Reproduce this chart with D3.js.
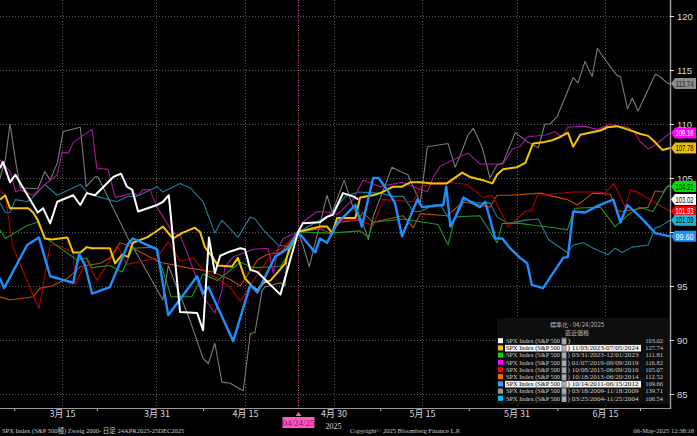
<!DOCTYPE html>
<html><head><meta charset="utf-8">
<script src="https://cdn.jsdelivr.net/npm/d3@7"></script>
<style>body{margin:0;background:#000;overflow:hidden}svg{display:block}</style>
</head><body><svg id="c" width="697" height="436"></svg>
<script>
// ---------- data ----------
const normDate = "2025-04-24";               // normalisation date (all series = 100)
const domainDays = [-50.5, 63];              // visible window, days from normDate
const monthTicks = ["2025-03-15","2025-03-31","2025-04-15","2025-04-30","2025-05-15","2025-05-31","2025-06-15"];
const monthTickLabels = ["3月 15","3月 31","4月 15","4月 30","5月 15","5月 31","6月 15"];
const minorTicks = ["2025-03-07","2025-03-21","2025-04-08","2025-05-08","2025-05-23","2025-06-07","2025-06-21"];
const yTicks = [85,90,95,100,105,110,115,120];

const seriesKeys   = ["s2025","s2023b","s2023a","s2019","s2015","s2013","s2011","s2009","s2004"];
const seriesRanges = ["","11/03/2023-07/05/2024","03/31/2023-12/01/2023","01/07/2019-09/09/2019","10/08/2015-06/09/2016","10/18/2013-06/20/2014","10/14/2011-06/15/2012","03/18/2009-11/18/2009","03/25/2004-11/25/2004"];
const seriesLatest = [103.02,127.74,111.81,116.82,105.07,112.52,109.66,139.71,106.54];
const legendColors = ["#ffffff","#f5c400","#00dd00","#ff00ff","#ff0000","#ff6a00","#3a9cff","#9a9a9a","#00bfef"];
const lineColors   = ["#ffffff","#f5c400","#1a9a1a","#a8189a","#b40000","#c24a00","#1e8fff","#7a7a7a","#17829e"];
const lineWidths   = [2,2,1.1,1.1,1.1,1.1,2.4,1.1,1.1];
const highlighted  = [false,true,false,false,false,false,true,false,false];
const lastTagValues= [103.02,107.78,104.21,109.16,101.93,null,99.60,113.74,101.09];
const tagFill      = ["#ffffff","#e8c000","#00e000","#ff00ff","#ff0000",null,"#1e8fff","#8c8c8c","#1ab4d8"];
const tagText      = ["#000","#000","#000","#fff","#fff",null,"#fff","#222","#000"];

// [days from 04/24/2025, normalised value]
const s2025 = [[-50.5,105.9],[-50.0,106.5],[-48.8,104.6],[-47.9,105.3],[-44.1,101.8],[-43.2,102.2],[-42.0,100.8],[-40.8,102.8],[-38.1,103.4],[-36.9,102.5],[-35.8,103.6],[-34.4,103.4],[-31.3,105.1],[-30.0,105.4],[-29.0,104.2],[-28.1,103.9],[-27.1,101.9],[-23.9,102.5],[-22.9,102.8],[-21.9,103.4],[-20.0,92.6],[-17.1,92.5],[-16.1,90.9],[-15.1,99.5],[-14.1,96.2],[-13.2,97.8],[-11.5,98.2],[-9.8,98.5],[-9.0,98.4],[-8.1,96.5],[-6.9,96.3],[-3.0,94.2],[0,100],[0.8,100.8],[3.7,100.9],[4.9,101.4],[5.9,101.6],[7.6,103.6],[9.3,103.3],[10.2,103.02]];
const s2023b = [[-50.5,103.0],[-49.6,103.4],[-48.8,102.2],[-45.7,102.2],[-44.9,101.8],[-44.1,101.1],[-42.9,99.4],[-41.7,99.3],[-39.1,99.5],[-38.1,98.1],[-36.9,98.1],[-35.8,98.6],[-34.9,98.5],[-31.9,98.5],[-31.0,97.1],[-29.8,97.9],[-28.8,97.7],[-28.0,99.0],[-25.6,99.5],[-24.2,100.0],[-22.9,100.5],[-21.2,99.4],[-19.7,99.9],[-17.5,100.4],[-16.6,100.0],[-15.8,98.6],[-14.4,97.6],[-13.6,96.9],[-11.2,96.8],[-10.2,97.6],[-9.0,95.7],[-7.6,94.9],[-6.9,94.6],[-5.9,95.3],[-4.7,95.5],[-3.4,96.3],[-2.2,97.1],[-1.4,98.6],[0,100],[1.5,100.2],[3.7,100.5],[4.9,100.5],[5.8,99.9],[6.6,101.3],[9.7,101.3],[10.5,103.2],[12.7,103.4],[13.9,103.6],[16.1,104.2],[17.6,104.2],[19.0,104.6],[20.7,104.6],[22.9,104.5],[25.2,104.5],[27.8,105.5],[29.1,105.1],[31.3,104.8],[32.9,104.5],[33.7,105.3],[34.7,105.8],[37.1,106.0],[38.5,106.4],[39.8,108.2],[41.5,108.3],[43.0,108.5],[44.4,108.8],[45.7,109.2],[46.6,107.9],[47.8,109.0],[51.2,109.4],[52.4,109.7],[54.0,109.8],[55.8,109.5],[57.9,109.1],[59.3,108.9],[60.5,108.3],[61.7,107.6],[63.0,107.78]];
const s2023a = [[-50.5,100.2],[-49.6,99.4],[-45.9,100.6],[-44.1,100.9],[-42.9,99.5],[-37.4,97.4],[-35.8,97.6],[-34.9,96.7],[-31.9,96.9],[-29.8,96.3],[-28.0,98.5],[-24.2,98.6],[-21.5,94.0],[-18.0,94.0],[-16.1,96.1],[-13.7,95.5],[-9.8,97.2],[-7.6,96.7],[-3.0,96.8],[-1.7,97.9],[0,100],[5.4,99.9],[10.5,100.1],[11.9,99.5],[12.7,100.9],[17.8,101.2],[23.7,100.7],[25.4,98.8],[26.6,101.4],[30.8,101.5],[33.7,99.0],[34.6,100.8],[37.6,100.8],[40.2,100.6],[43.5,100.4],[45.6,100.2],[46.9,102.2],[51.2,102.3],[53.7,100.5],[55.9,101.6],[57.9,102.3],[60.1,101.9],[62.5,104.2],[63.0,104.21]];
const s2019 = [[-50.5,106.7],[-48.8,105.6],[-47.8,103.7],[-47.1,103.9],[-44.9,103.4],[-42.9,104.4],[-40.8,105.3],[-40.0,107.4],[-38.9,107.3],[-38.1,108.3],[-34.9,109.5],[-34.1,105.9],[-32.2,105.8],[-31.0,103.2],[-28.0,103.6],[-27.1,103.4],[-26.3,103.9],[-25.1,103.9],[-23.9,102.3],[-21.2,99.9],[-20.0,99.7],[-18.8,98.1],[-16.1,94.0],[-14.1,92.5],[-12.9,94.6],[-12.4,96.8],[-11.0,97.7],[-7.6,98.4],[-5.1,98.5],[-4.2,96.2],[-3.4,98.5],[-2.5,99.4],[0,100],[0.8,100.9],[3.2,101.9],[5.8,101.8],[6.6,101.6],[8.3,102.5],[9.3,103.0],[11.0,104.8],[13.9,104.2],[15.6,104.4],[17.6,104.6],[21.9,103.7],[22.9,105.1],[24.1,106.1],[27.4,107.0],[28.8,107.3],[30.8,106.3],[34.7,106.3],[36.3,107.7],[37.6,107.9],[38.8,108.8],[42.2,109.0],[43.5,109.3],[44.7,108.8],[45.7,109.7],[48.3,109.8],[50.7,109.5],[52.9,110.0],[54.0,109.8],[55.8,109.7],[57.1,109.2],[57.9,108.4],[59.3,107.7],[60.1,107.9],[61.3,108.4],[63.0,109.16]];
const s2015 = [[-50.5,103.9],[-49.6,103.3],[-48.3,98.6],[-43.9,92.9],[-42.0,98.8],[-40.8,98.8],[-38.1,98.1],[-37.8,95.1],[-35.8,97.4],[-34.1,95.5],[-30.5,98.6],[-29.0,97.0],[-23.9,97.6],[-22.0,99.1],[-20.0,97.3],[-17.8,97.6],[-16.1,96.5],[-11.5,94.9],[-9.8,93.6],[-6.4,96.5],[-4.2,98.1],[-2.5,98.6],[0,100],[3.7,100.4],[5.4,99.8],[6.6,101.1],[10.0,101.1],[12.7,100.6],[14.4,103.0],[19.5,102.8],[20.7,104.2],[24.1,104.6],[25.4,104.6],[28.6,104.4],[31.3,103.2],[32.9,103.4],[35.6,100.5],[38.5,101.9],[39.6,102.0],[40.5,103.4],[46.6,103.7],[50.7,103.7],[52.0,103.6],[53.5,104.5],[55.4,102.3],[56.3,103.9],[57.9,103.6],[59.6,103.0],[63.0,101.93]];
const s2013 = [[-50.5,94.0],[-48.8,93.7],[-44.9,94.0],[-43.7,94.8],[-41.7,95.0],[-39.1,95.7],[-36.9,96.8],[-33.5,97.1],[-31.9,97.6],[-30.2,99.0],[-29.0,98.8],[-23.4,97.2],[-18.8,96.7],[-14.4,96.3],[-11.5,95.6],[-9.8,95.0],[-6.9,97.4],[-5.3,97.9],[-3.0,98.1],[-1.4,99.0],[0,100],[3.7,100.3],[5.4,99.9],[7.1,100.9],[10.0,101.1],[11.0,101.8],[12.7,100.9],[17.8,101.5],[19.5,100.4],[20.7,101.7],[25.2,101.5],[28.0,102.8],[32.5,102.3],[33.7,103.4],[35.9,103.4],[41.0,103.6],[45.6,103.0],[47.3,102.5],[50.0,103.6],[52.9,103.5],[54.0,102.0],[54.9,101.9],[59.3,102.3],[60.5,103.8],[61.7,103.7],[63.0,104.4]];
const s2011 = [[-50.5,95.7],[-49.8,94.8],[-45.9,98.8],[-43.9,99.5],[-42.0,95.9],[-38.1,95.3],[-37.1,98.0],[-36.1,96.9],[-34.9,94.3],[-31.9,94.9],[-28.8,98.9],[-28.0,99.4],[-23.9,98.4],[-22.0,92.3],[-17.1,95.9],[-16.1,94.3],[-15.2,94.9],[-11.0,89.9],[-8.1,95.1],[-6.9,94.4],[-3.9,97.7],[-1.7,98.5],[0,100],[2.9,98.1],[3.7,99.4],[4.9,99.0],[6.6,100.8],[9.7,102.5],[10.8,100.5],[12.7,105.0],[13.6,105.0],[15.1,103.9],[16.4,102.7],[17.6,99.6],[20.2,103.0],[21.0,102.3],[24.6,102.5],[25.1,104.2],[25.8,100.5],[26.6,101.3],[28.0,103.2],[30.8,102.3],[31.7,102.8],[33.4,99.4],[34.6,99.4],[35.9,98.5],[37.6,97.6],[38.8,97.1],[39.6,95.1],[41.5,94.8],[44.9,97.6],[45.7,97.7],[46.6,101.9],[48.6,101.8],[50.7,102.4],[52.4,102.8],[53.4,103.0],[54.6,100.9],[55.8,102.5],[58.5,101.1],[60.5,99.9],[63.0,99.60]];
const s2009 = [[-50.5,105.0],[-49.6,106.7],[-48.8,110.0],[-47.9,106.7],[-47.4,105.1],[-47.1,104.1],[-44.1,104.0],[-42.9,105.6],[-42.0,104.8],[-40.8,106.4],[-39.8,109.3],[-36.9,109.7],[-35.9,104.2],[-34.4,105.1],[-33.9,105.1],[-28.8,99.4],[-22.9,93.7],[-22.0,96.9],[-18.3,91.8],[-16.1,88.3],[-15.2,87.8],[-14.1,89.7],[-12.9,86.1],[-11.5,86.0],[-9.3,85.3],[-8.1,90.6],[-7.3,90.7],[-6.1,94.6],[-5.6,94.9],[-3.0,95.3],[-2.2,95.0],[-1.9,97.7],[0,100],[0.8,98.8],[1.9,96.8],[4.9,103.4],[5.8,101.8],[7.8,104.8],[9.3,102.3],[10.8,101.1],[11.9,99.3],[12.7,101.4],[15.9,106.0],[17.3,105.6],[18.6,105.3],[20.7,102.7],[21.9,107.9],[25.4,108.2],[26.6,106.0],[27.4,107.0],[28.8,109.0],[29.7,109.6],[31.2,107.8],[32.5,105.0],[33.7,106.2],[34.7,106.4],[36.8,109.2],[39.0,108.3],[40.7,107.8],[41.8,110.0],[42.7,110.0],[43.9,110.7],[46.6,114.3],[47.4,113.8],[48.6,115.8],[49.8,114.4],[50.7,117.0],[51.7,116.2],[54.0,114.5],[54.6,114.4],[55.8,111.4],[56.6,112.4],[57.6,111.2],[60.5,114.6],[61.3,114.4],[62.5,113.8],[63.0,113.74]];
const s2004 = [[-50.5,102.7],[-49.6,101.8],[-48.8,101.8],[-47.9,103.0],[-45.9,102.8],[-44.9,103.2],[-42.9,104.4],[-40.8,103.4],[-36.9,104.4],[-35.6,103.6],[-34.1,103.3],[-30.7,102.8],[-28.8,103.3],[-27.3,103.3],[-23.9,104.2],[-22.9,103.7],[-20.0,104.5],[-18.3,104.1],[-16.1,102.8],[-14.1,99.9],[-12.9,101.1],[-10.2,99.5],[-8.1,101.4],[-7.3,101.2],[-5.9,100.2],[-3.4,98.8],[-1.4,98.6],[0,100],[5.4,101.6],[8.0,103.3],[10.2,103.7],[13.9,103.6],[16.1,103.3],[17.8,103.3],[19.5,101.9],[20.7,101.9],[22.9,102.5],[24.1,102.5],[26.1,100.8],[28.3,103.0],[30.3,102.7],[32.5,102.7],[33.7,101.4],[35.6,100.8],[38.5,101.1],[40.7,101.2],[42.4,99.3],[45.6,98.1],[46.6,98.8],[48.3,99.0],[50.0,98.5],[52.5,97.9],[53.7,98.5],[54.9,98.1],[56.6,98.6],[59.3,98.8],[60.5,100.4],[61.3,100.5],[63.0,101.09]];

const seriesData = {s2025,s2023b,s2023a,s2019,s2015,s2013,s2011,s2009,s2004};
const drawOrder = [7,8,5,4,2,3,1,6,0];

// ---------- layout ----------
const W=697,H=436, plotR=670, plotB=408;
const svg=d3.select("#c");
svg.append("rect").attr("width",W).attr("height",H).attr("fill","#000");
const DAY=86400000, base=new Date(normDate+"T00:00:00Z");
const dt=d=>new Date(base.getTime()+d*DAY);
const x=d3.scaleUtc().domain(domainDays.map(dt)).range([0,plotR]);
const y=d3.scaleLinear().domain([85,120]).range([394,16]);
const CJK='"Noto Sans CJK JP","Liberation Serif",serif';
const SER='"Liberation Serif","Noto Sans CJK JP",serif';

// grid
const g=svg.append("g");
g.selectAll(".hg").data(yTicks).join("line")
 .attr("x1",0).attr("x2",plotR).attr("y1",d=>Math.round(y(d))+0.5).attr("y2",d=>Math.round(y(d))+0.5)
 .attr("stroke","#5a5a5a").attr("stroke-dasharray","1,2");
g.selectAll(".vg").data(monthTicks).join("line")
 .attr("x1",d=>Math.round(x(new Date(d+"T00:00:00Z")))+0.5).attr("x2",d=>Math.round(x(new Date(d+"T00:00:00Z")))+0.5)
 .attr("y1",0).attr("y2",plotB).attr("stroke","#5a5a5a").attr("stroke-dasharray","1,2");
const xn=Math.round(x(base))+0.5;
g.append("line").attr("x1",xn).attr("x2",xn).attr("y1",0).attr("y2",plotB)
 .attr("stroke","#e055b0").attr("stroke-dasharray","1,1.5");

// lines
const line=d3.line().x(d=>x(dt(d[0]))).y(d=>y(d[1]));
const lg=svg.append("g");
drawOrder.forEach(i=>{
  lg.append("path").datum(seriesData[seriesKeys[i]]).attr("d",line)
    .attr("fill","none").attr("stroke",lineColors[i]).attr("stroke-width",lineWidths[i])
    .attr("stroke-linejoin","round");
});

// axes
svg.append("line").attr("x1",0).attr("x2",plotR).attr("y1",plotB+0.5).attr("y2",plotB+0.5).attr("stroke","#9a9a9a");
svg.append("line").attr("x1",plotR+0.5).attr("x2",plotR+0.5).attr("y1",0).attr("y2",plotB+1).attr("stroke","#9a9a9a").attr("stroke-width",1.5);
const tagVals=lastTagValues.filter(v=>v!==null);
const yAxis=d3.axisRight(y).tickValues(yTicks).tickSize(4).tickPadding(3)
  .tickFormat(d=>tagVals.some(v=>Math.abs(y(v)-y(d))<6)?"":d);   // label hidden where a value tag covers it
const ya=svg.append("g").attr("transform",`translate(${plotR},0)`).call(yAxis);
ya.select(".domain").remove();
ya.selectAll("line").attr("stroke","#ddd");
ya.selectAll("text").attr("fill","#d8d8d8").style("font-family",'"Liberation Sans",sans-serif').style("font-size","9.5px");

const xAxis=d3.axisBottom(x).tickValues(monthTicks.map(d=>new Date(d+"T00:00:00Z"))).tickSize(0).tickPadding(2)
  .tickFormat((d,i)=>monthTickLabels[i]);
const xa=svg.append("g").attr("transform",`translate(0,${plotB+1})`).call(xAxis);
xa.select(".domain").remove();
xa.selectAll("text").attr("fill","#d8d8d8").style("font-family",CJK).style("font-size","9px");
svg.selectAll(".mt").data(minorTicks).join("line")
 .attr("x1",d=>x(new Date(d+"T00:00:00Z"))).attr("x2",d=>x(new Date(d+"T00:00:00Z")))
 .attr("y1",plotB+1).attr("y2",plotB+3).attr("stroke","#bbb");
svg.append("text").attr("x",x(new Date("2025-04-30T00:00:00Z"))).attr("y",428.5).attr("text-anchor","middle")
 .attr("fill","#d8d8d8").style("font-family",SER).style("font-size","8px").text("2025");

// normalisation date marker
svg.append("path").attr("d",`M${xn},${plotB+4}l-3,4h6z`).attr("fill","#ff5cc4");
svg.append("rect").attr("x",xn-16).attr("y",417).attr("width",32).attr("height",11).attr("fill","#ff5cc4");
svg.append("text").attr("x",xn).attr("y",425.5).attr("text-anchor","middle").attr("fill","#9a0060")
 .style("font-family",SER).style("font-size","9px").text("04/24/25");

// right value tags
const tags=seriesKeys.map((k,i)=>({i,v:lastTagValues[i]})).filter(d=>d.v!==null).sort((a,b)=>b.v-a.v);
tags.forEach(t=>{
  const yy=y(t.v);
  svg.append("path").attr("d",`M${plotR+1},${yy}l4,-5.5h21v11h-21z`).attr("fill",tagFill[t.i]);
  svg.append("text").attr("x",plotR+5.5).attr("y",yy+3.2).attr("textLength",18).attr("lengthAdjust","spacingAndGlyphs")
   .attr("fill",tagText[t.i])
   .style("font-family",'"Liberation Sans",sans-serif').style("font-size","8.5px").text(t.v.toFixed(2));
});

// legend
const LX=497, LY=318;
svg.append("rect").attr("x",LX).attr("y",LY).attr("width",plotR-LX-1).attr("height",86).attr("fill","#0e0e0e");
svg.append("text").attr("x",577).attr("y",326.5).attr("text-anchor","middle").attr("fill","#bbb")
 .style("font-family",CJK).style("font-size","6px").text("標準化 - 04/24/2025");
svg.append("text").attr("x",577).attr("y",334.5).attr("text-anchor","middle").attr("fill","#bbb")
 .style("font-family",CJK).style("font-size","6px").text("直近価格");
seriesKeys.forEach((k,i)=>{
  const ry=341+i*7.2;
  svg.append("rect").attr("x",498).attr("y",ry-2.8).attr("width",5).attr("height",5).attr("fill",legendColors[i]);
  if(highlighted[i]) svg.append("rect").attr("x",505).attr("y",ry-3.3).attr("width",136).attr("height",6.6).attr("fill","#f2f2f2");
  svg.append("rect").attr("x",561.5).attr("y",ry-3.4).attr("width",5).attr("height",6.8).attr("fill","#6e6e6e");
  const tc=highlighted[i]?"#111":"#c8c8c8";
  svg.append("text").attr("x",506).attr("y",ry+2).attr("fill",tc).attr("textLength",54).attr("lengthAdjust","spacingAndGlyphs")
    .style("font-family",SER).style("font-size","6.5px").text("SPX Index (S&P 500");
  svg.append("text").attr("x",561.8).attr("y",ry+2).attr("fill","#ddd")
    .style("font-family",CJK).style("font-size","4.5px").text("種");
  const rest=") "+seriesRanges[i];
  svg.append("text").attr("x",567.5).attr("y",ry+2).attr("fill",tc)
    .attr("textLength",seriesRanges[i]?71:3).attr("lengthAdjust","spacingAndGlyphs")
    .style("font-family",SER).style("font-size","6.5px").text(rest);
  svg.append("text").attr("x",663).attr("y",ry+2).attr("text-anchor","end").attr("fill","#c8c8c8")
    .style("font-family",SER).style("font-size","6.5px").text(seriesLatest[i].toFixed(2));
});

// footer
svg.append("text").attr("x",2).attr("y",433).attr("fill","#c8c8c8").style("font-family",SER).style("font-size","6.5px")
 .text("SPX Index (S&P 500種) Zweig 2000-   日足 24APR2025-25DEC2025");
svg.append("text").attr("x",350).attr("y",433).attr("fill","#c8c8c8").style("font-family",SER).style("font-size","6.5px")
 .text("Copyright© 2025 Bloomberg Finance L.P.");
svg.append("text").attr("x",694).attr("y",433).attr("text-anchor","end").attr("fill","#c8c8c8").style("font-family",SER).style("font-size","6.5px")
 .text("06-May-2025 12:38:18");
</script></body></html>
